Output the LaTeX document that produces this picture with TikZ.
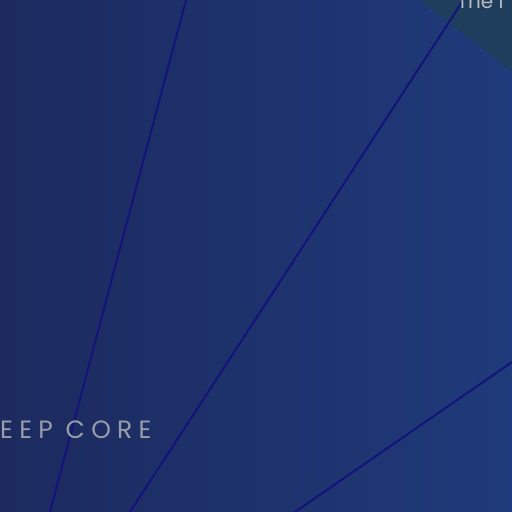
\documentclass[tikz,border=0pt]{standalone}
\usepackage{fontspec}
\setmainfont{Poppins}
\newfontfamily\labelfont[LetterSpace=25]{Poppins}
\begin{document}
\begin{tikzpicture}[x=1pt,y=-1pt,
  ray/.style={draw=rayc, line width=2pt},
  corelabel/.style={text=corec, font=\labelfont\fontsize{25}{25}\selectfont, anchor=base west, inner sep=0pt},
  toplabel/.style={text=topc, font=\fontsize{20}{20}\selectfont, anchor=base west, inner sep=0pt}]
\definecolor{bgl}{HTML}{1C2A5F}
\definecolor{bgr}{HTML}{1F3A7A}
\definecolor{tealc}{HTML}{1F3E5E}
\definecolor{rayc}{HTML}{14137C}
\definecolor{corec}{HTML}{9A9CA8}
\definecolor{topc}{HTML}{B9BCC0}
\definecolor{dotc}{HTML}{22408A}
\useasboundingbox (0,0) rectangle (512,512);
\clip (0,0) rectangle (512,512);
\shade[left color=bgl, right color=bgr] (0,0) rectangle (512,512);
\fill[tealc] (420,0) -- (512,72) -- (512,0) -- cycle;
\foreach \p in {(431,11),(456,30),(481,50),(506,70)} \fill[dotc] \p circle (1.6);
\coordinate (a1) at (186,0);
\coordinate (b1) at (50,512);
\coordinate (a2) at (466,-4);
\coordinate (b2) at (130,512);
\coordinate (a3) at (512,362);
\coordinate (b3) at (295,512);
\draw[ray] (a1) -- (b1);
\draw[ray] (a2) -- (b2);
\draw[ray] (a3) -- (b3);
\node[corelabel] (core) at (0,438) {EEP CORE};
\node[toplabel] (top) at (457,8) {The i};
\end{tikzpicture}
\end{document}
